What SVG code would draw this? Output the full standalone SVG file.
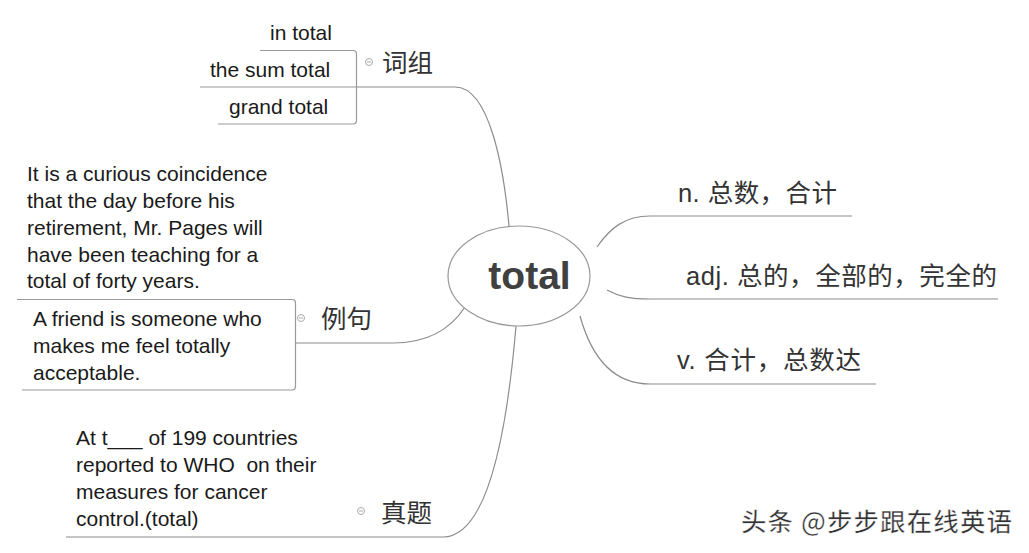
<svg xmlns="http://www.w3.org/2000/svg" width="1029" height="553" viewBox="0 0 1029 553">
<style>
.t{font-family:"Liberation Sans","Noto Sans CJK SC",sans-serif;font-size:21px;fill:#1a1a1a;white-space:pre}
.cn{font-family:"Liberation Sans","Noto Sans CJK SC",sans-serif;font-size:25.5px;fill:#333}
.ln{fill:none;stroke:#8c8c8c;stroke-width:1.2}
.bx{fill:none;stroke:#999;stroke-width:1.2}
.col{fill:#fff;stroke:#aaa;stroke-width:1}
.wm{font-family:"Noto Sans CJK SC",sans-serif;font-size:25.5px;font-weight:500;fill:#333;stroke:#fff;stroke-width:0.5}
</style>
<rect width="1029" height="553" fill="#fff"/>
<g id="connectors">
<path class="ln" d="M357,87 L455,87 C490,87 504,170 509,226"/>
<path class="ln" d="M296,343 L393,343 C428,343 450,330 465,307"/>
<path class="ln" d="M66,537 L443,537 C490,537 508,420 516,326"/>
<path class="ln" d="M597,247 C610,228 625,216 650,216 L852,216"/>
<path class="ln" d="M607,290 C620,297 630,299 650,299 L998,299"/>
<path class="ln" d="M580,316 C590,352 610,384 650,384 L876,384"/>
</g>
<g id="center">
<ellipse cx="519" cy="276" rx="71" ry="50" fill="#fff" stroke="#999" stroke-width="1.2"/>
<text x="529.5" y="289" text-anchor="middle" style="font-family:'Liberation Sans',sans-serif;font-size:39px;font-weight:bold;fill:#404040">total</text>
</g>
<g id="n-noun">
<text class="cn" x="678" y="202" textLength="159" lengthAdjust="spacing">n. 总数，合计</text>
</g>
<g id="n-adj">
<text class="cn" x="686" y="285" textLength="311" lengthAdjust="spacing">adj. 总的，全部的，完全的</text>
</g>
<g id="n-verb">
<text class="cn" x="677" y="369" textLength="184" lengthAdjust="spacing">v. 合计，总数达</text>
</g>
<g id="n-cizu">
<circle class="col" cx="369" cy="62" r="3.5"/>
<line x1="367" y1="62" x2="371" y2="62" stroke="#aaa" stroke-width="1"/>
<text class="cn" x="382" y="72">词组</text>
</g>
<g id="n-cizu-children">
<path class="bx" d="M260,50.5 L353,50.5 Q356.5,50.5 356.5,54 L356.5,120 Q356.5,124 353,124 L218,124"/>
<line class="bx" x1="200" y1="87" x2="357" y2="87"/>
<text class="t" x="270" y="40">in total</text>
<text class="t" x="210" y="77">the sum total</text>
<text class="t" x="229" y="114">grand total</text>
</g>
<g id="n-liju">
<circle class="col" cx="301" cy="318" r="3.5"/>
<line x1="299" y1="318" x2="303" y2="318" stroke="#aaa" stroke-width="1"/>
<text class="cn" x="321" y="328">例句</text>
</g>
<g id="n-liju-children">
<path class="bx" d="M17,299.5 L292,299.5 Q295.5,299.5 295.5,303 L295.5,386 Q295.5,390 292,390 L22,390"/>
<text class="t" x="27" y="181">It is a curious coincidence</text>
<text class="t" x="27" y="208">that the day before his</text>
<text class="t" x="27" y="235">retirement, Mr. Pages will</text>
<text class="t" x="27" y="262">have been teaching for a</text>
<text class="t" x="27" y="288">total of forty years.</text>
<text class="t" x="33" y="326">A friend is someone who</text>
<text class="t" x="33" y="353">makes me feel totally</text>
<text class="t" x="33" y="380">acceptable.</text>
</g>
<g id="n-zhenti">
<circle class="col" cx="361" cy="511" r="3.5"/>
<line x1="359" y1="511" x2="363" y2="511" stroke="#aaa" stroke-width="1"/>
<text class="cn" x="381" y="522">真题</text>
</g>
<g id="n-zhenti-children">
<text class="t" x="76" y="445">At t___ of 199 countries</text>
<text class="t" x="76" y="472">reported to WHO  on their</text>
<text class="t" x="76" y="499">measures for cancer</text>
<text class="t" x="76" y="526">control.(total)</text>
</g>
<text class="wm" x="741" y="531" textLength="271" lengthAdjust="spacing">头条 @步步跟在线英语</text>
</svg>
